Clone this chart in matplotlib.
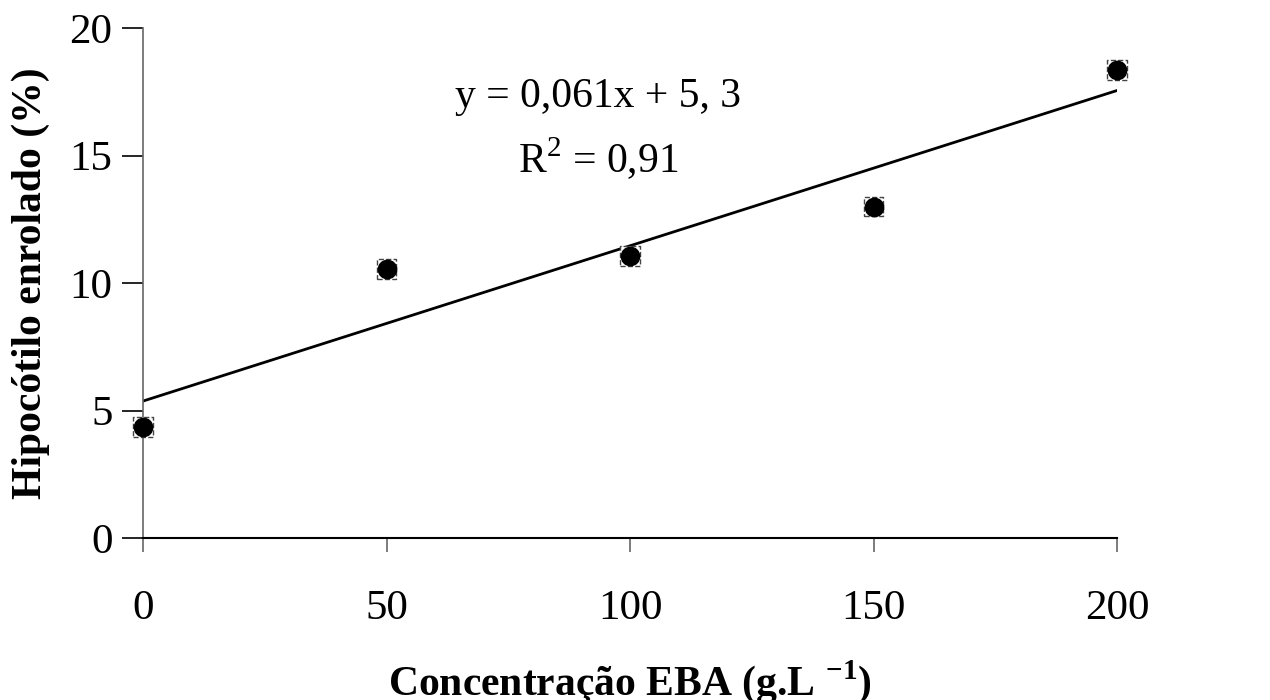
import numpy as np
import matplotlib.pyplot as plt

plt.rcParams['font.family'] = ['Liberation Serif', 'DejaVu Serif']
plt.rcParams['mathtext.fontset'] = 'custom'
plt.rcParams['mathtext.rm'] = 'Liberation Serif'
plt.rcParams['mathtext.bf'] = 'Liberation Serif:bold'

# data
concentracao = [0, 50, 100, 150, 200]
hipocotilo = [4.35, 10.55, 11.05, 13.0, 18.35]
x_ticks = [0, 50, 100, 150, 200]
y_ticks = [0, 5, 10, 15, 20]

# linear fit
coef = np.polyfit(concentracao, hipocotilo, 1)
x_fit = np.array([0, 200])
y_fit = np.polyval(coef, x_fit)

fig = plt.figure(figsize=(12.7, 7), dpi=100)
ax = fig.add_axes([0.1126, 0.2314, 0.767, 0.7286])

ax.plot(x_fit, y_fit, color='black', lw=2, zorder=2)
ax.scatter(concentracao, hipocotilo, marker='s', s=200, facecolor='white',
           edgecolor='#444444', linewidths=1, linestyle='--', zorder=3, clip_on=False)
ax.scatter(concentracao, hipocotilo, marker='o', s=175, color='black', zorder=4, clip_on=False)

ax.set_xlim(0, 200)
ax.set_ylim(0, 20)
ax.set_xticks(x_ticks)
ax.set_yticks(y_ticks)

for s in ['top', 'right']:
    ax.spines[s].set_visible(False)
ax.spines['left'].set_color('#666666')
ax.spines['left'].set_linewidth(1.2)
ax.spines['bottom'].set_color('black')
ax.spines['bottom'].set_linewidth(1.5)

ax.tick_params(axis='x', direction='out', length=10, width=1.2, color='#666666',
               labelsize=31, pad=27)
ax.tick_params(axis='y', direction='out', length=15, width=1.2, color='black',
               labelsize=31, pad=7)

ax.set_xlabel(r'Concentração EBA (g.L $^{\mathbf{-1}}$)', fontsize=30,
              fontweight='bold', labelpad=22)
ax.set_ylabel('Hipocótilo enrolado (%)', fontsize=30, fontweight='bold', labelpad=14)

ax.text(93.5, 17.3, 'y = 0,061x + 5, 3', fontsize=30, ha='center', va='center')
ax.text(93.5, 14.85, r'R$^{2}$ = 0,91', fontsize=30, ha='center', va='center')

fig.savefig('out.png', dpi=100)
